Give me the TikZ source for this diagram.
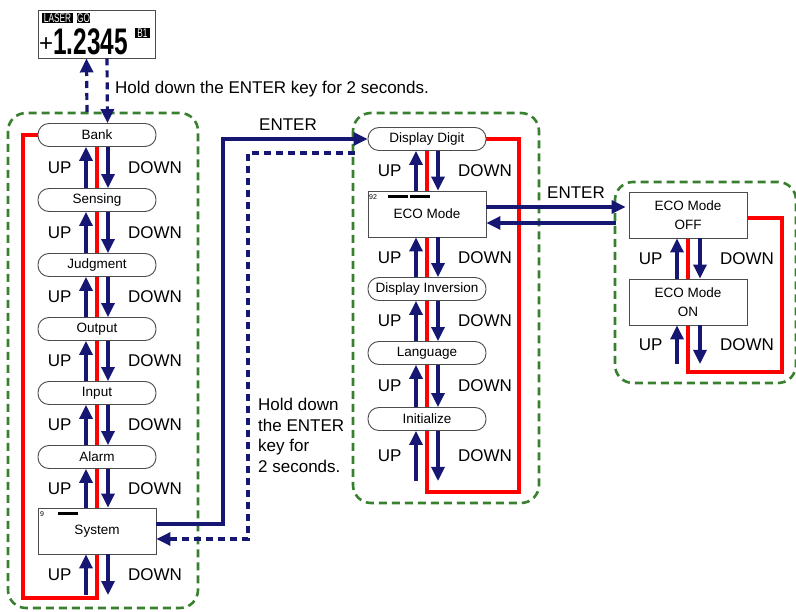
\documentclass[tikz,border=0pt]{standalone}
\usepackage{fontspec}
\setmainfont{Liberation Sans}
\newfontfamily\lcdfont[FakeStretch=0.66]{Liberation Sans}
\usetikzlibrary{arrows.meta,backgrounds}
\definecolor{keyblue}{RGB}{22,22,115}
\definecolor{grpgreen}{RGB}{56,128,48}
\begin{document}
\begin{tikzpicture}[x=1pt,y=-1pt,
  menuitem/.style={draw=black!70,line width=0.9pt,fill=white,rounded corners=11pt,
    minimum width=118pt,minimum height=23pt,inner sep=0pt,font=\fontsize{13.5}{16}\selectfont},
  menubox/.style={draw=black!70,line width=0.9pt,fill=white,minimum width=118pt,
    minimum height=46pt,inner sep=0pt,align=center,font=\fontsize{13.5}{19}\selectfont},
  keyarrow/.style={draw=keyblue,line width=3.2pt,-{Triangle[length=14pt,width=13pt]}},
  keydash/.style={keyarrow,dash pattern=on 7pt off 5pt},
  loopline/.style={draw=red,line width=3.3pt},
  group/.style={draw=grpgreen,line width=2.6pt,dash pattern=on 8pt off 5pt,rounded corners=18pt},
  keytext/.style={inner sep=0pt,font=\fontsize{17}{20.5}\selectfont},
  tagtext/.style={fill=black,text=white,inner sep=0pt,minimum height=10pt,
    font=\lcdfont\fontsize{12.5}{12.5}\selectfont}]%
% menu groups, key paths and the display
\useasboundingbox (0,0) rectangle (796,612);
\draw[group] (8,113) rectangle (198,608);
\draw[group] (353,113) rectangle (539,503);
\draw[group] (615,182) rectangle (796,383);
%
\node[draw=black!70,line width=0.9pt,minimum width=117pt,minimum height=48pt] (display) at (96.5,34) {};
\node[tagtext,minimum width=31pt] (lasertag) at (57.5,18) {LASER};
\node[tagtext,minimum width=13pt] (gotag) at (83.5,18) {GO};
\node[tagtext,minimum width=15pt] (banktag) at (142.5,33) {B1};
\node[inner sep=0pt,anchor=base west,font=\lcdfont\bfseries\fontsize{37}{37}\selectfont] (value) at (39,55) {{\rmfamily\mdseries\fontsize{24}{24}\selectfont\raisebox{3pt}{+}}1.2345};
%
\node[menuitem] (bank) at (97,135) {Bank};
\node[menuitem] (sensing) at (97,200) {Sensing};
\node[menuitem] (judgment) at (97,265) {Judgment};
\node[menuitem] (output) at (97,329) {Output};
\node[menuitem] (input) at (97,393) {Input};
\node[menuitem] (alarm) at (97,457) {Alarm};
\node[menubox] (system) at (97,531) {System};
\node[inner sep=0pt,font=\fontsize{7}{7}\selectfont] (sysno) at (42,514) {9};
\fill (58,512) rectangle (78,515);
%
\node[menuitem] (ddigit) at (427,139) {Display Digit};
\node[menubox] (eco) at (427,214) {ECO Mode};
\node[inner sep=0pt,font=\fontsize{7}{7}\selectfont] (econo) at (373,197) {92};
\fill (388,195) rectangle (408,198);
\fill (410,195) rectangle (430,198);
\node[menuitem] (dinv) at (427,289) {Display Inversion};
\node[menuitem] (lang) at (427,353) {Language};
\node[menuitem] (init) at (427,419) {Initialize};
%
\node[menubox] (ecooff) at (688,215) {ECO Mode\\OFF};
\node[menubox] (ecoon) at (688,302) {ECO Mode\\ON};
%
\coordinate (lloop) at (23,598);
\coordinate (mloop) at (519,492);
\coordinate (rloop) at (782,372);
\begin{pgfonlayer}{background}
\draw[loopline] (bank.west) -| (lloop) -| (bank.south);
\draw[loopline] (ddigit.east) -| (mloop) -| (ddigit.south);
\draw[loopline] ([yshift=-3pt]ecooff.east) -| (rloop) -| (ecooff.south);
\end{pgfonlayer}
%
\coordinate (lbot) at (97,595);
\coordinate (mbot) at (427,481);
\coordinate (rbot) at (688,364);
\draw[keyarrow] ([xshift=-11pt]sensing.north) -- node[keytext,left=13pt]{UP} ([xshift=-11pt]bank.south);
\draw[keyarrow] ([xshift=11pt]bank.south) -- node[keytext,right=18.5pt]{DOWN} ([xshift=11pt]sensing.north);
\draw[keyarrow] ([xshift=-11pt]judgment.north) -- node[keytext,left=13pt]{UP} ([xshift=-11pt]sensing.south);
\draw[keyarrow] ([xshift=11pt]sensing.south) -- node[keytext,right=18.5pt]{DOWN} ([xshift=11pt]judgment.north);
\draw[keyarrow] ([xshift=-11pt]output.north) -- node[keytext,left=13pt]{UP} ([xshift=-11pt]judgment.south);
\draw[keyarrow] ([xshift=11pt]judgment.south) -- node[keytext,right=18.5pt]{DOWN} ([xshift=11pt]output.north);
\draw[keyarrow] ([xshift=-11pt]input.north) -- node[keytext,left=13pt]{UP} ([xshift=-11pt]output.south);
\draw[keyarrow] ([xshift=11pt]output.south) -- node[keytext,right=18.5pt]{DOWN} ([xshift=11pt]input.north);
\draw[keyarrow] ([xshift=-11pt]alarm.north) -- node[keytext,left=13pt]{UP} ([xshift=-11pt]input.south);
\draw[keyarrow] ([xshift=11pt]input.south) -- node[keytext,right=18.5pt]{DOWN} ([xshift=11pt]alarm.north);
\draw[keyarrow] ([xshift=-11pt]system.north) -- node[keytext,left=13pt]{UP} ([xshift=-11pt]alarm.south);
\draw[keyarrow] ([xshift=11pt]alarm.south) -- node[keytext,right=18.5pt]{DOWN} ([xshift=11pt]system.north);
\draw[keyarrow] ([xshift=-11pt]lbot) -- node[keytext,left=13pt]{UP} ([xshift=-11pt]system.south);
\draw[keyarrow] ([xshift=11pt]system.south) -- node[keytext,right=18.5pt]{DOWN} ([xshift=11pt]lbot);
%
\draw[keyarrow] ([xshift=-11pt]eco.north) -- node[keytext,left=13pt]{UP} ([xshift=-11pt]ddigit.south);
\draw[keyarrow] ([xshift=11pt]ddigit.south) -- node[keytext,right=18.5pt]{DOWN} ([xshift=11pt]eco.north);
\draw[keyarrow] ([xshift=-11pt]dinv.north) -- node[keytext,left=13pt]{UP} ([xshift=-11pt]eco.south);
\draw[keyarrow] ([xshift=11pt]eco.south) -- node[keytext,right=18.5pt]{DOWN} ([xshift=11pt]dinv.north);
\draw[keyarrow] ([xshift=-11pt]lang.north) -- node[keytext,left=13pt]{UP} ([xshift=-11pt]dinv.south);
\draw[keyarrow] ([xshift=11pt]dinv.south) -- node[keytext,right=18.5pt]{DOWN} ([xshift=11pt]lang.north);
\draw[keyarrow] ([xshift=-11pt]init.north) -- node[keytext,left=13pt]{UP} ([xshift=-11pt]lang.south);
\draw[keyarrow] ([xshift=11pt]lang.south) -- node[keytext,right=18.5pt]{DOWN} ([xshift=11pt]init.north);
\draw[keyarrow] ([xshift=-11pt]mbot) -- node[keytext,left=13pt]{UP} ([xshift=-11pt]init.south);
\draw[keyarrow] ([xshift=11pt]init.south) -- node[keytext,right=18.5pt]{DOWN} ([xshift=11pt]mbot);
%
\draw[keyarrow] ([xshift=-11pt]ecoon.north) -- node[keytext,left=13pt]{UP} ([xshift=-11pt]ecooff.south);
\draw[keyarrow] ([xshift=12pt]ecooff.south) -- node[keytext,right=18.5pt]{DOWN} ([xshift=12pt]ecoon.north);
\draw[keyarrow] ([xshift=-11pt]rbot) -- node[keytext,left=13pt]{UP} ([xshift=-11pt]ecoon.south);
\draw[keyarrow] ([xshift=12pt]ecoon.south) -- node[keytext,right=18.5pt]{DOWN} ([xshift=12pt]rbot);
%
\coordinate (hold) at (87,112);
\draw[keydash] ([xshift=-10pt]bank.north |- hold) -- ([xshift=-10pt]display.south);
\draw[keydash] ([xshift=10.5pt]display.south) -- ([xshift=10.5pt]bank.north);
\node[keytext,anchor=west] (holdtxt) at (115,89) {Hold down the ENTER key for 2 seconds.};
%
\coordinate (enterbend) at (223,524);
\draw[keyarrow] (system.east |- enterbend) -- (enterbend) |- (ddigit.west);
\node[keytext] (entertxt) at (288,125) {ENTER};
\coordinate (holdstart) at (355,153);
\coordinate (holdbend) at (248,539);
\draw[keydash] (holdstart) -| (holdbend) -- (system.east |- holdbend);
\node[keytext,anchor=north west,align=left] (holdtxt2) at (258,398) {Hold down\\the ENTER\\key for\\2 seconds.};
%
\coordinate (ecoenter) at (487,207);
\coordinate (ecoback) at (616,223);
\draw[keyarrow,shorten >=3pt] (eco.east |- ecoenter) -- (ecooff.west |- ecoenter);
\draw[keyarrow] (ecoback) -- (eco.east |- ecoback);
\node[keytext] (entertxt2) at (576,193) {ENTER};
\end{tikzpicture}
\end{document}
